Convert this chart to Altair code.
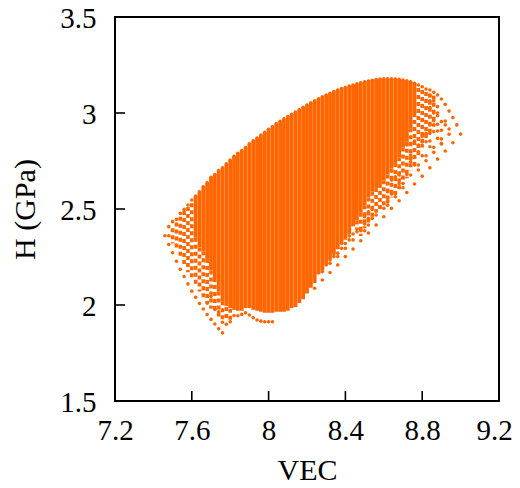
import altair as alt
import pandas as pd

x_ticks = [7.2, 7.6, 8, 8.4, 8.8, 9.2]
y_ticks = [1.5, 2, 2.5, 3, 3.5]
inner_x_ticks = [7.6, 8, 8.4, 8.8]
inner_y_ticks = [2, 2.5, 3]
COLOR = "#ff6600"
FONT = "Liberation Serif"

core_vec = [7.62, 7.64, 7.66, 7.68, 7.70, 7.72, 7.74, 7.76, 7.78, 7.80,
            7.82, 7.84, 7.86, 7.88, 7.90, 7.92, 7.94, 7.96, 7.98, 8.00,
            8.02, 8.04, 8.06, 8.08, 8.10, 8.12, 8.14, 8.16, 8.18, 8.20,
            8.22, 8.24, 8.26, 8.28, 8.30, 8.32, 8.34, 8.36, 8.38, 8.40,
            8.42, 8.44, 8.46, 8.48, 8.50, 8.52, 8.54, 8.56, 8.58, 8.60,
            8.62, 8.64, 8.66, 8.68, 8.70, 8.72, 8.74, 8.76]
core_hi = [2.568, 2.59, 2.616, 2.637, 2.665, 2.68, 2.70, 2.715, 2.735, 2.755,
           2.775, 2.79, 2.805, 2.82, 2.84, 2.855, 2.87, 2.885, 2.90, 2.915,
           2.93, 2.945, 2.957, 2.97, 2.982, 2.993, 3.005, 3.017, 3.03, 3.042,
           3.053, 3.063, 3.074, 3.085, 3.094, 3.103, 3.112, 3.12, 3.127, 3.133,
           3.14, 3.146, 3.152, 3.157, 3.162, 3.166, 3.17, 3.174, 3.177, 3.178,
           3.178, 3.178, 3.177, 3.175, 3.172, 3.168, 3.163, 3.155]
core_lo = [2.35, 2.30, 2.28, 2.24, 2.18, 2.14, 2.07, 2.02, 1.995, 1.985,
           1.975, 1.97, 1.97, 1.985, 1.985, 1.975, 1.97, 1.965, 1.96, 1.96,
           1.96, 1.965, 1.965, 1.965, 1.97, 1.985, 1.99, 2.01, 2.03, 2.06,
           2.09, 2.115, 2.16, 2.18, 2.21, 2.24, 2.27, 2.29, 2.32, 2.34,
           2.37, 2.41, 2.44, 2.48, 2.52, 2.56, 2.59, 2.61, 2.63, 2.65,
           2.68, 2.71, 2.74, 2.77, 2.82, 2.85, 2.92, 3.00]

sparse_vec = [7.50, 7.52, 7.54, 7.56, 7.58, 7.60, 7.62, 7.64, 7.66, 7.68, 7.70, 7.72, 7.74,
              7.76, 7.78, 7.80, 8.46, 8.48, 8.50, 8.52, 8.54, 8.56, 8.58, 8.60, 8.62, 8.64,
              8.66, 8.68, 8.70, 8.72, 8.74, 8.76, 8.78, 8.80, 8.82, 8.84, 8.86]
sparse_hi = [2.40, 2.43, 2.46, 2.49, 2.51, 2.53, 2.35, 2.30, 2.28, 2.24, 2.18, 2.14, 2.07,
             2.02, 1.99, 1.98, 2.44, 2.48, 2.52, 2.56, 2.59, 2.61, 2.63, 2.65, 2.68, 2.71,
             2.74, 2.77, 2.82, 2.85, 2.92, 3.00, 3.13, 3.12, 3.11, 3.10, 3.09]
sparse_lo = [2.32, 2.30, 2.25, 2.21, 2.17, 2.14, 2.11, 2.07, 2.04, 2.01, 1.98, 1.96, 1.94,
             1.92, 1.92, 1.92, 2.39, 2.36, 2.40, 2.42, 2.46, 2.48, 2.50, 2.52, 2.53, 2.56,
             2.57, 2.60, 2.63, 2.66, 2.70, 2.73, 2.77, 2.82, 2.86, 2.90, 2.93]

left_edge = [(7.46, 2.361), (7.48, 2.315), (7.50, 2.272), (7.52, 2.228), (7.54, 2.186),
             (7.56, 2.148), (7.58, 2.11), (7.60, 2.072), (7.62, 2.04), (7.64, 2.008),
             (7.66, 1.979), (7.68, 1.95), (7.70, 1.925), (7.72, 1.901), (7.74, 1.876),
             (7.76, 1.855)]
left_fringe = [(7.48, 2.408), (7.50, 2.434), (7.52, 2.446), (7.54, 2.477), (7.56, 2.498),
               (7.48, 2.361), (7.58, 2.521), (7.60, 2.547), (7.78, 1.90), (7.80, 1.913),
               (7.76, 1.91), (7.72, 1.977), (7.74, 1.965), (7.68, 2.009), (7.70, 2.044)]
bottom_arc = [(7.82, 1.945), (7.84, 1.944), (7.86, 1.951), (7.88, 1.96), (7.90, 1.948),
              (7.92, 1.934), (7.94, 1.922), (7.96, 1.916), (7.98, 1.913), (8.00, 1.913),
              (8.02, 1.913)]
lower_right_edge = [(8.24, 2.087), (8.28, 2.13), (8.32, 2.169), (8.36, 2.208), (8.40, 2.252),
                    (8.44, 2.292), (8.48, 2.335), (8.52, 2.375), (8.56, 2.417), (8.60, 2.46),
                    (8.64, 2.503), (8.60, 2.504), (8.58, 2.509), (8.54, 2.498), (8.52, 2.486),
                    (8.54, 2.451), (8.52, 2.451), (8.50, 2.46), (8.56, 2.469), (8.52, 2.417),
                    (8.50, 2.422), (8.48, 2.387), (8.46, 2.382), (8.50, 2.387), (8.44, 2.339),
                    (8.42, 2.339), (8.40, 2.295), (8.38, 2.295), (8.36, 2.252), (8.34, 2.252),
                    (8.32, 2.217), (8.30, 2.208), (8.28, 2.174), (8.26, 2.168), (8.62, 2.538),
                    (8.44, 2.37), (8.42, 2.36), (8.40, 2.32), (8.38, 2.32), (8.36, 2.27),
                    (8.34, 2.265), (8.32, 2.235)]
right_fringe = [(8.96, 2.845), (8.92, 2.802), (8.90, 2.842), (8.86, 2.821), (8.86, 2.795),
                (8.88, 2.76), (8.84, 2.824), (8.82, 2.85), (8.80, 2.833), (8.82, 2.777),
                (8.82, 2.751), (8.80, 2.777), (8.78, 2.833), (8.78, 2.798), (8.76, 2.854),
                (8.74, 2.842), (8.74, 2.781), (8.72, 2.833), (8.76, 2.769), (8.78, 2.729),
                (8.78, 2.703), (8.76, 2.729), (8.74, 2.746), (8.84, 2.715), (8.80, 2.671),
                (8.76, 2.63), (8.72, 2.586), (8.68, 2.543), (8.62, 2.543), (8.66, 2.586),
                (8.66, 2.564), (8.64, 2.578), (8.70, 2.633), (8.70, 2.611), (8.68, 2.633),
                (8.72, 2.68), (8.74, 2.677), (8.70, 2.663), (8.68, 2.677), (8.66, 2.668),
                (8.64, 2.651), (8.62, 2.633), (8.62, 2.59), (8.62, 2.52), (9.00, 2.89),
                (8.98, 2.938), (8.96, 2.976), (8.94, 3.01), (8.92, 3.045), (8.90, 3.073),
                (8.88, 3.094), (8.86, 3.108), (8.84, 3.12), (8.82, 3.125), (8.80, 3.137),
                (8.78, 3.146), (8.92, 2.958), (8.92, 2.938), (8.94, 2.917), (8.94, 2.889),
                (8.90, 2.955), (8.88, 2.986), (8.88, 2.941), (8.86, 2.938), (8.88, 2.906),
                (8.86, 3.063), (8.88, 3.033), (8.84, 3.094), (8.84, 3.028), (8.84, 2.981),
                (8.84, 2.938), (8.86, 2.903), (8.84, 2.894), (8.82, 2.894), (8.80, 2.877),
                (8.84, 2.854), (8.88, 2.868), (8.90, 2.865), (8.90, 2.839), (8.84, 3.063),
                (8.86, 3.0), (8.86, 2.96), (8.88, 3.0), (8.90, 2.91)]

core = pd.DataFrame({"vec": core_vec, "hi": core_hi, "lo": core_lo})
sparse = pd.DataFrame({"vec": sparse_vec, "hi": sparse_hi, "lo": sparse_lo})
pairs = left_edge + left_fringe + bottom_arc + lower_right_edge + right_fringe
pairs += list(zip(core_vec, core_hi))
dots = pd.DataFrame(pairs, columns=["vec", "h"])

xs = alt.Scale(domain=[7.2, 9.2], nice=False, zero=False)
ys = alt.Scale(domain=[1.5, 3.5], nice=False, zero=False)
common = dict(titleColor="#000", labelColor="#000", titleFont=FONT, labelFont=FONT,
              titleFontWeight="normal", labelFontSize=29, titleFontSize=30,
              grid=False, ticks=False, domain=False, labelOverlap=False,
              labelFlush=False, format="~g")

rules = alt.Chart(core).mark_rule(color=COLOR, strokeWidth=3.8).encode(
    x=alt.X("vec:Q", scale=xs, axis=alt.Axis(values=x_ticks, title="VEC", labelPadding=15,
                                             titlePadding=10,
                                             labelOffset=alt.expr("datum.value == 9.2 ? -5 : 0"),
                                             **common)),
    y=alt.Y("hi:Q", scale=ys, axis=alt.Axis(values=y_ticks, title="H (GPa)", labelPadding=19,
                                            titlePadding=19, labelOffset=1.5, **common)),
    y2="lo:Q",
)
fringe = alt.Chart(sparse).mark_rule(color=COLOR, strokeWidth=3.6, strokeDash=[4, 3]).encode(
    x=alt.X("vec:Q", scale=xs), y=alt.Y("hi:Q", scale=ys), y2="lo:Q")
points = alt.Chart(dots).mark_circle(color=COLOR, size=13, opacity=1).encode(
    x=alt.X("vec:Q", scale=xs), y=alt.Y("h:Q", scale=ys))
xt = alt.Chart(pd.DataFrame({"v": inner_x_ticks})).mark_rule(color="#000", strokeWidth=1.6).encode(
    x=alt.X("v:Q", scale=xs), y=alt.value(384), y2=alt.value(374))
yt = alt.Chart(pd.DataFrame({"v": inner_y_ticks})).mark_rule(color="#000", strokeWidth=1.6).encode(
    y=alt.Y("v:Q", scale=ys), x=alt.value(0), x2=alt.value(10))

chart = alt.layer(rules, fringe, points, xt, yt).properties(
    width=384, height=384,
    autosize=alt.AutoSizeParams(type="none"),
    padding={"left": 107, "top": 9, "right": 13, "bottom": 79},
).configure_view(stroke="#000", strokeWidth=2)

chart.save("out.html", embed_options={"renderer": "svg", "actions": False})
